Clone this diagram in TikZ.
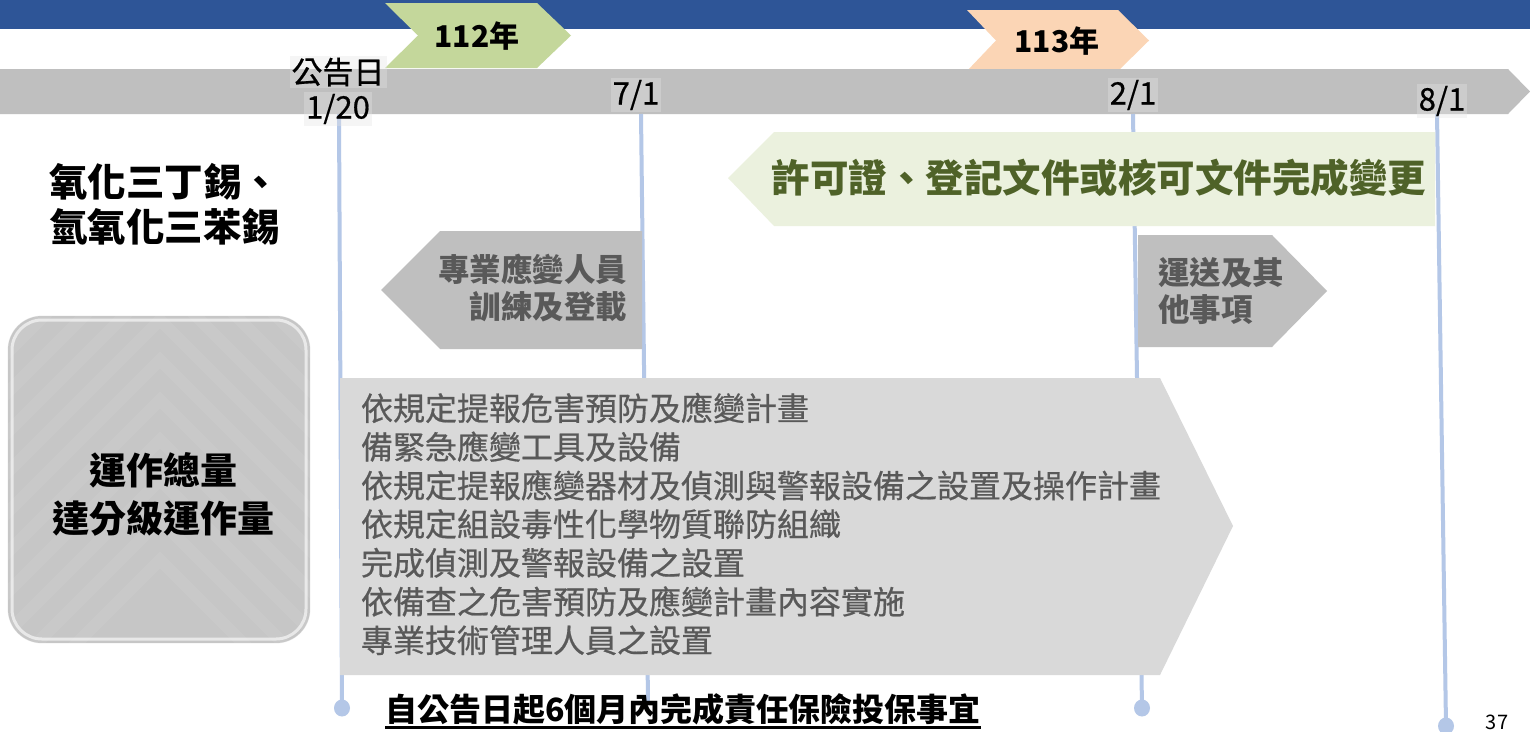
\documentclass[tikz,border=0pt]{standalone}
\usepackage{fontspec}
\setmainfont{Noto Sans CJK TC}
\newfontfamily\medfont[FakeBold=0.6]{Noto Sans CJK TC}
\definecolor{topblue}{RGB}{46,85,151}
\definecolor{bargray}{RGB}{191,191,191}
\definecolor{yrgreen}{RGB}{196,215,155}
\definecolor{yrpeach}{RGB}{251,213,181}
\definecolor{vline}{RGB}{180,199,231}
\definecolor{lightgreen}{RGB}{235,241,222}
\definecolor{olive}{RGB}{79,98,40}
\definecolor{listgray}{RGB}{217,217,217}
\definecolor{darktext}{RGB}{89,89,89}
\definecolor{boxgray}{RGB}{198,198,198}
\begin{document}
\begin{tikzpicture}[x=1pt,y=-1pt,
  every node/.style={inner sep=0pt,outer sep=0pt},
  yeartxt/.style={font=\fontsize{30}{30}\selectfont\bfseries,text=black},
  datetxt/.style={font=\fontsize{31}{31}\selectfont\medfont,text=black,fill=black!10,fill opacity=0.35,text opacity=1,inner sep=2pt},
  lefttxt/.style={font=\fontsize{38.5}{38.5}\selectfont\bfseries,text=black},
  boxtxt/.style={font=\fontsize{37}{37}\selectfont\bfseries,text=black},
  arrtxt/.style={font=\fontsize{31.5}{31.5}\selectfont\bfseries,text=darktext},
  listtxt/.style={font=\fontsize{32}{32}\selectfont\medfont,text=darktext,anchor=west},
  vconn/.style={draw=vline,line width=4pt},
  vdot/.style={fill=vline}
]
\useasboundingbox (0,0) rectangle (1530,731);
\fill[white] (0,0) rectangle (1530,731);
% top band
\fill[topblue] (0,0) rectangle (1530,29);
% year chevrons
\fill[yrgreen] (385,3) -- (537,3) -- (571,35.5) -- (537,68) -- (385,68) -- (418,35.5) -- cycle;
\fill[yrpeach] (967,10) -- (1118,10) -- (1149,40.5) -- (1118,71) -- (967,71) -- (996,40.5) -- cycle;
% timeline bar
\fill[bargray] (0,69) -- (1508,69) -- (1530,91.5) -- (1508,114) -- (0,114) -- cycle;
\node[yeartxt] (y112) at (477,36) {112年};
\node[yeartxt] (y113) at (1057,41) {113年};

% vertical connectors
\coordinate (t1) at (339,114);  \coordinate (b1) at (342,708);
\coordinate (t2) at (641,114);  \coordinate (b2) at (648,702);
\coordinate (t3) at (1133,114); \coordinate (b3) at (1142,708);
\coordinate (t4) at (1437,114); \coordinate (b4) at (1446,726);
\draw[vconn] (t1) -- (b1);
\draw[vconn] (t2) -- (b2);
\draw[vconn] (t3) -- (b3);
\draw[vconn] (t4) -- (b4);
\fill[vdot] (b1) ellipse [x radius=8, y radius=8.5];
\fill[vdot] (b3) ellipse [x radius=8, y radius=8.5];
\fill[vdot] (b4) ellipse [x radius=8, y radius=8.5];

% date labels
\node[datetxt] (d0a) at (338,72) {公告日};
\node[datetxt] (d0b) at (338,109) {1/20};
\node[datetxt] (d1) at (636,95) {7/1};
\node[datetxt] (d2) at (1133,95) {2/1};
\node[datetxt] (d3) at (1442,101) {8/1};

% left labels
\node[lefttxt,anchor=west] (chem1) at (49,182) {氧化三丁錫、};
\node[lefttxt,anchor=west] (chem2) at (49,227) {氫氧化三苯錫};

% rounded gray box
\begin{scope}
  \clip[rounded corners=34] (8,316) rectangle (310,643);
  \fill[boxgray] (8,316) rectangle (310,643);
  \foreach \k in {0,...,14}{
    \draw[white,opacity=0.06,line width=12pt]
      (-200,560-40*\k+360) -- (160,200-40*\k+360) -- (520,560-40*\k+360);
  }
\end{scope}
\draw[white,opacity=0.6,line width=3pt,rounded corners=30] (12,320) rectangle (306,639);
\draw[black!20,opacity=0.35,line width=0.8pt,rounded corners=34] (8,316) rectangle (310,643);
\node[boxtxt] (tot1) at (163,470) {運作總量};
\node[boxtxt] (tot2) at (163,518) {達分級運作量};

% banner
\fill[lightgreen] (728,178) -- (774,132) -- (1435,132) -- (1435,226) -- (774,226) -- cycle;
\node[font=\fontsize{38.5}{38.5}\selectfont\bfseries,text=olive] (permit) at (1099,178) {許可證、登記文件或核可文件完成變更};

% training arrow (left pointing)
\fill[bargray] (381,290) -- (440,231) -- (642,231) -- (642,349) -- (440,349) -- cycle;
\node[arrtxt,anchor=east] (tr1) at (627,269) {專業應變人員};
\node[arrtxt,anchor=east] (tr2) at (627,307) {訓練及登載};

% transport arrow (right pointing)
\fill[bargray] (1138,235) -- (1272,235) -- (1327,291) -- (1272,347) -- (1138,347) -- cycle;
\node[arrtxt,anchor=west] (tp1) at (1158,273) {運送及其};
\node[arrtxt,anchor=west] (tp2) at (1158,310) {他事項};

% main list arrow
\fill[listgray] (340,378) -- (1160,378) -- (1233,526) -- (1160,675) -- (340,675) -- cycle;
\node[listtxt] (l1) at (361,408) {依規定提報危害預防及應變計畫};
\node[listtxt] (l2) at (361,446.7) {備緊急應變工具及設備};
\node[listtxt] (l3) at (361,485.4) {依規定提報應變器材及偵測與警報設備之設置及操作計畫};
\node[listtxt] (l4) at (361,524.1) {依規定組設毒性化學物質聯防組織};
\node[listtxt] (l5) at (361,562.8) {完成偵測及警報設備之設置};
\node[listtxt] (l6) at (361,601.5) {依備查之危害預防及應變計畫內容實施};
\node[listtxt] (l7) at (361,640.2) {專業技術管理人員之設置};

% bottom note
\node[font=\fontsize{32}{32}\selectfont\bfseries,text=black] (ins) at (683,709) {自公告日起6個月內完成責任保險投保事宜};
\draw[black,line width=2.5pt] (ins.south west) ++(0,3) coordinate (u1) -- (ins.south east |- u1);

% page number
\node[font=\fontsize{20}{20}\selectfont,text=black] (pg) at (1497,722) {37};
\end{tikzpicture}
\end{document}
